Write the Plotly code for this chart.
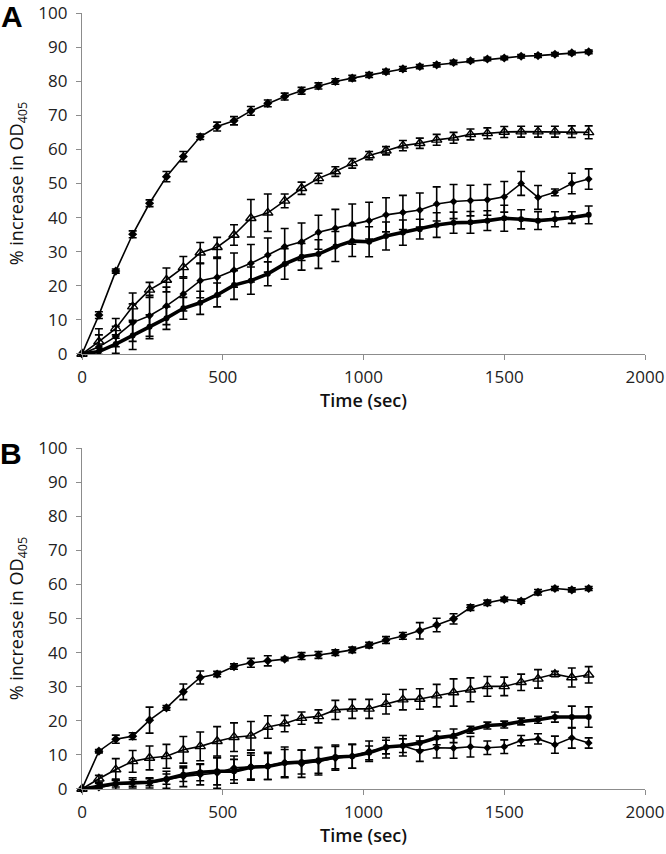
import plotly.graph_objects as go
from plotly.subplots import make_subplots

time_sec = list(range(0, 1801, 60))

# Panel A
a_s1 = [0, 11.4, 24.3, 35.1, 44.2, 52.0, 57.9, 63.7, 66.7, 68.4, 71.3, 73.5, 75.5, 77.2, 78.6,
        79.9, 80.9, 81.8, 82.8, 83.6, 84.3, 84.8, 85.5, 86.0, 86.5, 86.8, 87.3, 87.5, 87.9, 88.3, 88.6]
a_s1_err = [0, 1.0, 0.6, 1.0, 1.0, 1.5, 1.5, 0.8, 1.3, 1.2, 1.3, 1.0, 1.0, 1.0, 0.9, 0.8, 0.8,
            0.7, 0.7, 0.7, 0.6, 0.6, 0.6, 0.5, 0.5, 0.5, 0.5, 0.5, 0.5, 0.5, 0.5]
a_s2 = [0, 3.6, 7.5, 13.9, 18.8, 21.7, 25.4, 29.7, 31.3, 34.9, 39.8, 41.4, 44.9, 48.6, 51.5,
        53.5, 55.9, 58.2, 59.6, 61.1, 61.8, 62.8, 63.4, 64.4, 64.7, 65.1, 65.2, 65.2, 65.2, 65.2, 65.0]
a_s2_err = [0, 3.8, 2.9, 4.0, 2.2, 3.5, 3.2, 3.0, 2.9, 3.0, 5.5, 5.5, 2.0, 1.8, 1.5, 1.4, 1.4,
            1.2, 1.2, 1.5, 1.5, 1.6, 1.6, 1.6, 1.6, 1.6, 1.6, 1.6, 1.6, 1.7, 1.9]
a_s3 = [0, 2.1, 5.1, 9.2, 11.2, 14.1, 17.6, 21.5, 22.5, 24.6, 26.6, 29.0, 31.5, 32.9, 35.7,
        36.9, 38.1, 39.1, 40.8, 41.5, 42.2, 44.0, 44.7, 45.0, 45.2, 46.1, 50.0, 45.9, 47.4, 50.0, 51.3]
a_s3_err = [0, 3.5, 3.0, 5.5, 6.0, 5.5, 5.0, 5.0, 5.5, 5.0, 5.5, 5.0, 5.3, 5.5, 5.0, 5.5, 5.9,
            5.4, 5.0, 5.0, 5.0, 5.0, 5.0, 4.5, 4.5, 4.5, 3.5, 3.5, 1.0, 3.0, 3.0]
a_s4 = [0, 0.7, 2.9, 5.4, 8.0, 10.5, 13.4, 15.0, 17.3, 20.2, 21.5, 23.5, 26.4, 28.5, 29.3,
        31.5, 33.1, 32.9, 34.6, 35.6, 36.6, 37.8, 38.5, 38.6, 39.1, 39.8, 39.5, 39.1, 39.5, 40.0, 40.8]
a_s4_err = [0, 1.0, 2.7, 4.1, 3.5, 3.3, 3.2, 3.4, 3.5, 4.2, 4.0, 3.5, 4.5, 3.9, 4.2, 4.4, 4.5,
            4.4, 4.1, 3.7, 2.9, 3.6, 3.1, 3.2, 2.9, 3.8, 2.8, 2.6, 2.2, 1.7, 2.6]

# Panel B
b_s1 = [0, 11.1, 14.6, 15.5, 20.2, 23.8, 28.5, 32.7, 33.7, 35.9, 37.0, 37.6, 38.1, 39.0, 39.3,
        40.0, 40.8, 42.2, 43.7, 44.9, 46.4, 48.1, 49.9, 53.2, 54.6, 55.6, 55.1, 57.7, 58.8, 58.4, 58.8]
b_s1_err = [0, 0.5, 1.2, 1.0, 3.8, 0.7, 2.3, 1.9, 0.8, 0.8, 1.3, 1.5, 0.5, 1.0, 1.0, 0.8, 0.8,
            0.8, 1.0, 1.0, 2.4, 2.0, 1.5, 0.8, 0.8, 0.6, 0.6, 0.8, 0.6, 0.6, 0.6]
b_s2 = [0, 3.0, 5.7, 8.1, 9.1, 9.6, 11.5, 12.5, 14.0, 15.2, 15.6, 18.2, 19.2, 20.8, 21.3,
        23.2, 23.5, 23.5, 24.9, 26.2, 26.4, 27.4, 28.3, 29.1, 30.1, 30.1, 31.3, 32.3, 33.7, 32.7, 33.5]
b_s2_err = [0, 1.0, 3.2, 3.2, 3.5, 3.5, 3.9, 4.2, 4.3, 4.2, 4.2, 3.3, 2.4, 1.8, 1.9, 2.8, 2.8,
            2.8, 2.9, 3.0, 3.0, 3.3, 4.0, 3.5, 2.9, 2.7, 2.4, 2.7, 0.8, 2.8, 2.4]
b_s3 = [0, 0.8, 1.6, 1.8, 2.0, 2.9, 4.2, 4.9, 5.2, 5.2, 6.4, 6.6, 7.6, 7.9, 8.4,
        9.4, 9.6, 10.6, 12.3, 12.7, 13.5, 15.0, 15.6, 17.4, 18.6, 18.9, 19.8, 20.3, 21.1, 21.1, 21.1]
b_s3_err = [0, 0.8, 1.0, 1.0, 1.0, 1.5, 2.0, 2.5, 4.0, 3.5, 3.5, 3.8, 4.0, 3.5, 3.8, 3.5, 3.5,
            2.0, 2.0, 2.0, 2.0, 2.0, 2.0, 1.0, 1.0, 1.0, 1.0, 1.0, 1.5, 3.2, 3.0]
b_s4 = [0, 0.4, 1.4, 1.8, 1.8, 2.7, 3.7, 4.2, 4.7, 6.2, 6.6, 6.8, 7.8, 7.4, 8.1,
        9.0, 9.6, 11.1, 12.1, 12.7, 11.1, 12.1, 12.0, 12.4, 12.1, 12.4, 14.2, 14.7, 13.0, 15.0, 13.5]
b_s4_err = [0, 0.5, 1.5, 1.5, 1.5, 2.5, 3.0, 3.0, 4.5, 3.5, 4.0, 4.0, 4.5, 4.0, 4.0, 3.5, 3.5,
            3.0, 3.0, 3.0, 3.0, 3.0, 3.0, 3.0, 2.0, 2.0, 1.5, 1.5, 2.5, 3.0, 1.5]

x_ticks = [0, 500, 1000, 1500, 2000]
y_ticks = list(range(0, 101, 10))

styles = {
    "s1": dict(line=dict(color="black", width=1.6), marker=dict(symbol="diamond", size=7, color="black")),
    "s2": dict(line=dict(color="black", width=1.6), marker=dict(symbol="triangle-up-open", size=9, color="black", line=dict(width=1.4))),
    "s3": dict(line=dict(color="black", width=1.6), marker=dict(symbol="diamond", size=6, color="black")),
    "s4": dict(line=dict(color="black", width=3.6), marker=dict(symbol="circle", size=6, color="black")),
}

fig = make_subplots(rows=2, cols=1, vertical_spacing=0.12)

def add(series, err, key, row):
    st = styles[key]
    fig.add_trace(go.Scatter(
        x=time_sec, y=series, mode="lines+markers",
        line=st["line"], marker=st["marker"],
        error_y=dict(type="data", array=err, visible=True, color="black", thickness=1.6, width=4),
        cliponaxis=False, showlegend=False), row=row, col=1)

add(a_s4, a_s4_err, "s4", 1)
add(a_s3, a_s3_err, "s3", 1)
add(a_s2, a_s2_err, "s2", 1)
add(a_s1, a_s1_err, "s1", 1)
add(b_s4, b_s4_err, "s3", 2)
add(b_s3, b_s3_err, "s4", 2)
add(b_s2, b_s2_err, "s2", 2)
add(b_s1, b_s1_err, "s1", 2)

axis_common = dict(showgrid=False, zeroline=False, showline=True, linecolor="#8c8c8c", linewidth=1.3,
                   ticks="outside", ticklen=5, tickcolor="#8c8c8c", tickwidth=1.2, automargin=False,
                   tickfont=dict(family="Open Sans", size=17, color="#222222"))

for r in (1, 2):
    fig.update_xaxes(range=[0, 2000], tickvals=x_ticks, row=r, col=1, ticklabelstandoff=2,
                     title=dict(text="Time (sec)", font=dict(family="Open Sans", size=18, color="#111111", weight=600), standoff=4),
                     **axis_common)
    fig.update_yaxes(range=[0, 100], tickvals=y_ticks, row=r, col=1, ticklabelstandoff=5,
                     title=dict(text="% increase in OD<sub>405</sub>", font=dict(family="Open Sans", size=18, color="#111111"), standoff=9),
                     **axis_common)

fig.update_layout(
    width=666, height=854,
    margin=dict(l=82, r=21, t=13, b=65, autoexpand=False),
    plot_bgcolor="white", paper_bgcolor="white",
)
fig.layout.yaxis.domain = [0.5606, 1.0]
fig.layout.yaxis2.domain = [0.0, 0.4394]

fig.add_annotation(text="<b>A</b>", x=-0.1243, y=(789 - 17) / 776, xref="paper", yref="paper",
                   xanchor="center", yanchor="middle",
                   showarrow=False, font=dict(family="Liberation Sans", size=30, color="black"))
fig.add_annotation(text="<b>B</b>", x=-0.126, y=(789 - 453) / 776, xref="paper", yref="paper",
                   xanchor="center", yanchor="middle",
                   showarrow=False, font=dict(family="Liberation Sans", size=30, color="black"))

fig.write_html("out.html", config={"displayModeBar": False},
               post_script="document.body.style.margin='0';")
